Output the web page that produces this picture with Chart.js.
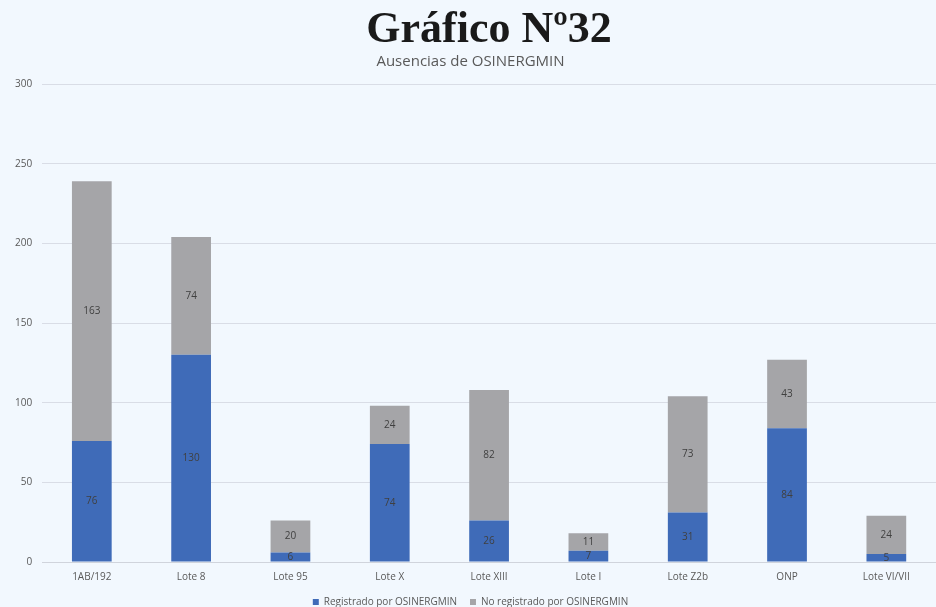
<!DOCTYPE html>
<html>
<head>
<meta charset="utf-8">
<script src="https://cdn.jsdelivr.net/npm/chart.js@4/dist/chart.umd.min.js"></script>
<style>
  html, body { margin: 0; padding: 0; background: #f2f8fe; }
  #wrap { width: 936px; height: 607px; }
</style>
</head>
<body>
<div id="wrap"><canvas id="lotesChart"></canvas></div>
<script>
const categories = ['1AB/192', 'Lote 8', 'Lote 95', 'Lote X', 'Lote XIII', 'Lote I', 'Lote Z2b', 'ONP', 'Lote VI/VII'];
const registrado = [76, 130, 6, 74, 26, 7, 31, 84, 5];
const noRegistrado = [163, 74, 20, 24, 82, 11, 73, 43, 24];

// draws the value in the middle of every bar segment
const barLabels = {
    id: 'barLabels',
    afterDatasetsDraw(chart) {
        const ctx = chart.ctx;
        ctx.save();
        ctx.font = '10px "Open Sans", sans-serif';
        ctx.fillStyle = '#404040';
        ctx.textAlign = 'center';
        ctx.textBaseline = 'middle';
        chart.data.datasets.forEach((ds, i) => {
            chart.getDatasetMeta(i).data.forEach((bar, j) => {
                const mid = (bar.y + bar.base) / 2;
                ctx.fillText(ds.data[j], bar.x, mid);
            });
        });
        ctx.restore();
    }
};

const ctx = document.getElementById('lotesChart').getContext('2d');
const lotesChart = new Chart(ctx, {
    type: 'bar',
    data: {
        labels: categories,
        datasets: [{
            label: 'Registrado por OSINERGMIN',
            data: registrado,
            backgroundColor: '#3f6bb8'
        }, {
            label: 'No registrado por OSINERGMIN',
            data: noRegistrado,
            backgroundColor: '#a5a5a8'
        }]
    },
    options: {
        responsive: true,
        maintainAspectRatio: false,
        animation: false,
        layout: { padding: { left: 5, right: 0, top: 0, bottom: -10 } },
        datasets: {
            bar: { barPercentage: 0.4, categoryPercentage: 1 }
        },
        scales: {
            x: {
                stacked: true,
                grid: { display: false },
                border: { color: '#d0d4dc' },
                ticks: { color: '#595959', font: { size: 10, family: '"Open Sans", sans-serif' }, padding: 1 }
            },
            y: {
                stacked: true,
                min: 0,
                max: 300,
                ticks: { stepSize: 50, color: '#595959', font: { size: 10, family: '"Open Sans", sans-serif' }, padding: 10 },
                grid: { color: '#d9dde6', drawTicks: false },
                border: { display: false }
            }
        },
        plugins: {
            title: {
                display: true,
                fullSize: false,
                text: 'Gráfico Nº32',
                color: '#1a1a1a',
                font: { size: 44, weight: 'bold', lineHeight: 1.0, family: '"Liberation Serif", serif' },
                padding: { top: 9, bottom: 0 }
            },
            subtitle: {
                display: true,
                text: 'Ausencias de OSINERGMIN',
                color: '#595959',
                font: { size: 15, family: '"Open Sans", sans-serif' },
                padding: { top: 0, bottom: 13 }
            },
            legend: {
                position: 'bottom',
                labels: {
                    boxWidth: 6,
                    boxHeight: 6,
                    color: '#595959',
                    padding: 13,
                    font: { size: 10, family: '"Open Sans", sans-serif' }
                }
            },
            tooltip: { enabled: false }
        }
    },
    plugins: [barLabels]
});
</script>
</body>
</html>
